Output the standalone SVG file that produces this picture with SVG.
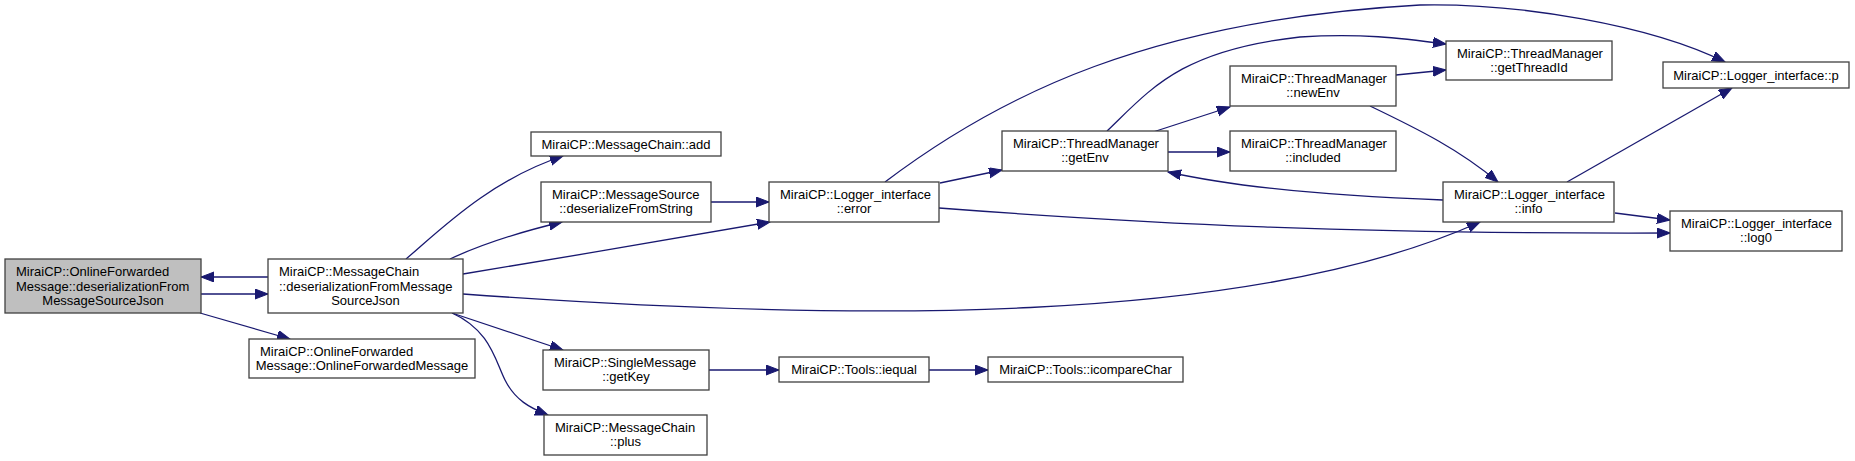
<svg xmlns="http://www.w3.org/2000/svg" width="1855" height="461" viewBox="0 0 1855 461">
<style>
.n rect{fill:#ffffff;stroke:#404040;stroke-width:1.3}
.n.g rect{fill:#bfbfbf}
.n text{font-family:"Liberation Sans",Arial,sans-serif;font-size:13px;fill:#000}
.m{text-anchor:middle}
#edges path{fill:none;stroke:#191970;stroke-width:1.3;marker-end:url(#ah)}
</style>
<defs>
<marker id="ah" markerUnits="userSpaceOnUse" markerWidth="14" markerHeight="11" refX="13" refY="5" orient="auto">
<path d="M0,0 L13,5 L0,10 z" fill="#191970" stroke="#191970" stroke-width="1"/>
</marker>
</defs>
<rect width="1855" height="461" fill="#ffffff"/>
<g id="edges">
<path d="M268,277 L201,277"/>
<path d="M201,294 L268,294"/>
<path d="M200,313 L290,339"/>
<path d="M406,259 C440,230 490,180 563,156"/>
<path d="M450,259 C480,245 520,232 562,222"/>
<path d="M463,274 C560,258 680,238 770,222"/>
<path d="M463,294 C850,322 1250,326 1480,222"/>
<path d="M452,313 L563,350"/>
<path d="M452,313 C490,330 495,360 505,380 C515,400 530,408 548,415"/>
<path d="M711,202 L769,202"/>
<path d="M940,183 L1002,170"/>
<path d="M885,182 C1000,95 1150,20 1420,5 C1520,3 1650,25 1725,62"/>
<path d="M939,208 C1150,224 1350,234 1670,233"/>
<path d="M1153,132 L1230,107"/>
<path d="M1168,152 L1230,152"/>
<path d="M1107,131 C1150,90 1180,50 1300,37 C1360,33 1400,38 1446,44"/>
<path d="M1396,75 L1446,70"/>
<path d="M1370,106 C1420,130 1460,150 1498,182"/>
<path d="M1443,200 C1330,196 1240,188 1168,172"/>
<path d="M1567,182 L1732,88"/>
<path d="M1615,213 L1670,220"/>
<path d="M709,370 L779,370"/>
<path d="M929,370 L988,370"/>
</g>
<g id="n_ofm_deser" class="n g"><rect x="5" y="259" width="196" height="54"/><text x="16" y="276">MiraiCP::OnlineForwarded</text><text x="16" y="290.5">Message::deserializationFrom</text><text x="103" y="305" class="m">MessageSourceJson</text></g>
<g id="n_mc_deser" class="n"><rect x="268" y="259" width="195" height="54"/><text x="279" y="276">MiraiCP::MessageChain</text><text x="279" y="290.5">::deserializationFromMessage</text><text x="365.5" y="305" class="m">SourceJson</text></g>
<g id="n_ofm_ctor" class="n"><rect x="249" y="339" width="226" height="39"/><text x="260" y="356">MiraiCP::OnlineForwarded</text><text x="362" y="370" class="m">Message::OnlineForwardedMessage</text></g>
<g id="n_mc_add" class="n"><rect x="531" y="132" width="190" height="24"/><text x="626" y="148.5" class="m">MiraiCP::MessageChain::add</text></g>
<g id="n_ms_deser" class="n"><rect x="541" y="182" width="170" height="40"/><text x="552" y="199">MiraiCP::MessageSource</text><text x="626" y="213" class="m">::deserializeFromString</text></g>
<g id="n_log_error" class="n"><rect x="769" y="182" width="170" height="40"/><text x="780" y="199">MiraiCP::Logger_interface</text><text x="854" y="213" class="m">::error</text></g>
<g id="n_sm_getkey" class="n"><rect x="543" y="350" width="166" height="40"/><text x="554" y="367">MiraiCP::SingleMessage</text><text x="626" y="381" class="m">::getKey</text></g>
<g id="n_mc_plus" class="n"><rect x="544" y="415" width="163" height="40"/><text x="555" y="432">MiraiCP::MessageChain</text><text x="625.5" y="446" class="m">::plus</text></g>
<g id="n_tools_iequal" class="n"><rect x="779" y="357" width="150" height="25"/><text x="854" y="374" class="m">MiraiCP::Tools::iequal</text></g>
<g id="n_tools_icmp" class="n"><rect x="988" y="357" width="195" height="25"/><text x="1085.5" y="374" class="m">MiraiCP::Tools::icompareChar</text></g>
<g id="n_tm_getenv" class="n"><rect x="1002" y="131" width="166" height="40"/><text x="1013" y="148">MiraiCP::ThreadManager</text><text x="1085" y="162" class="m">::getEnv</text></g>
<g id="n_tm_newenv" class="n"><rect x="1230" y="66" width="166" height="40"/><text x="1241" y="83">MiraiCP::ThreadManager</text><text x="1313" y="97" class="m">::newEnv</text></g>
<g id="n_tm_included" class="n"><rect x="1230" y="131" width="166" height="40"/><text x="1241" y="148">MiraiCP::ThreadManager</text><text x="1313" y="162" class="m">::included</text></g>
<g id="n_tm_threadid" class="n"><rect x="1446" y="41" width="166" height="39"/><text x="1457" y="58">MiraiCP::ThreadManager</text><text x="1529" y="72" class="m">::getThreadId</text></g>
<g id="n_log_p" class="n"><rect x="1663" y="62" width="186" height="26"/><text x="1756" y="79.5" class="m">MiraiCP::Logger_interface::p</text></g>
<g id="n_log_info" class="n"><rect x="1443" y="182" width="171" height="40"/><text x="1454" y="199">MiraiCP::Logger_interface</text><text x="1528.5" y="213" class="m">::info</text></g>
<g id="n_log_log0" class="n"><rect x="1670" y="211" width="172" height="40"/><text x="1681" y="228">MiraiCP::Logger_interface</text><text x="1756" y="242" class="m">::log0</text></g>
</svg>
